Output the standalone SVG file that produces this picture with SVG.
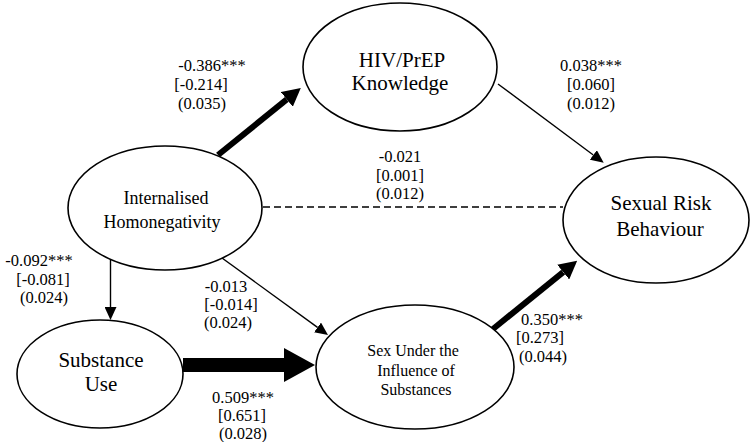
<svg xmlns="http://www.w3.org/2000/svg" width="751" height="442" viewBox="0 0 751 442">
<defs>
<style>
.node{fill:#fff;stroke:#000;stroke-width:1.6}
.lbl{font-family:'Liberation Serif','DejaVu Serif',serif;fill:#000;text-anchor:middle}
.coef{font-size:16.5px}
.big{font-size:21px}
.mid{font-size:18px}
.sm{font-size:16px}
.thin{stroke:#000;stroke-width:1.4;fill:none}
.med{stroke:#000;stroke-width:6;fill:none}
.fat{stroke:#000;stroke-width:14;fill:none}
.dash{stroke:#000;stroke-width:1.4;stroke-dasharray:7 4;fill:none}
</style>
<marker id="hThin" markerUnits="userSpaceOnUse" markerWidth="13" markerHeight="12" refX="0" refY="6" orient="auto" viewBox="0 0 13 12"><path d="M0,0 L13,6 L0,12 z" fill="#000"/></marker>
<marker id="hMed" markerUnits="userSpaceOnUse" markerWidth="18" markerHeight="19" refX="0" refY="9.5" orient="auto" viewBox="0 0 18 19"><path d="M0,0 L18,9.5 L0,19 z" fill="#000"/></marker>
<marker id="hFat" markerUnits="userSpaceOnUse" markerWidth="31" markerHeight="34" refX="0" refY="17" orient="auto" viewBox="0 0 31 34"><path d="M0,0 L31,17 L0,34 z" fill="#000"/></marker>
</defs>
<rect width="751" height="442" fill="#fff"/>
<g id="connectors">
<line class="med" x1="218" y1="155" x2="286.8" y2="99.4" marker-end="url(#hMed)"/>
<line class="thin" x1="498" y1="84" x2="593.3" y2="155" marker-end="url(#hThin)"/>
<line class="dash" x1="263" y1="207" x2="563" y2="207"/>
<line class="thin" x1="110.5" y1="259" x2="110.5" y2="307" marker-end="url(#hThin)"/>
<line class="thin" x1="222" y1="258" x2="317.5" y2="327.4" marker-end="url(#hThin)"/>
<line class="fat" x1="183" y1="365" x2="284" y2="365" marker-end="url(#hFat)"/>
<line class="med" x1="493" y1="329" x2="563.2" y2="272.1" marker-end="url(#hMed)"/>
</g>
<g id="hiv">
<ellipse class="node" cx="400" cy="67" rx="97" ry="64"/>
<text class="lbl big" x="402" y="67">HIV/PrEP</text>
<text class="lbl big" x="400" y="90">Knowledge</text>
</g>
<g id="ih">
<ellipse class="node" cx="165" cy="208" rx="97" ry="62"/>
<text class="lbl mid" x="166" y="204">Internalised</text>
<text class="lbl mid" x="162" y="228">Homonegativity</text>
</g>
<g id="srb">
<ellipse class="node" cx="656" cy="220" rx="93" ry="63"/>
<text class="lbl big" x="661" y="210">Sexual Risk</text>
<text class="lbl big" x="660" y="236">Behaviour</text>
</g>
<g id="su">
<ellipse class="node" cx="100" cy="374" rx="83" ry="54"/>
<text class="lbl big" x="101" y="367">Substance</text>
<text class="lbl big" x="101" y="391">Use</text>
</g>
<g id="sui">
<ellipse class="node" cx="415" cy="367" rx="99" ry="62"/>
<text class="lbl sm" x="413" y="356">Sex Under the</text>
<text class="lbl sm" x="416" y="376">Influence of</text>
<text class="lbl sm" x="416" y="395">Substances</text>
</g>
<g id="labels">
<text class="lbl coef" x="212" y="71">-0.386***</text>
<text class="lbl coef" x="201" y="90">[-0.214]</text>
<text class="lbl coef" x="202" y="109">(0.035)</text>
<text class="lbl coef" x="591" y="71">0.038***</text>
<text class="lbl coef" x="591" y="90">[0.060]</text>
<text class="lbl coef" x="591" y="109">(0.012)</text>
<text class="lbl coef" x="400" y="162">-0.021</text>
<text class="lbl coef" x="400" y="181">[0.001]</text>
<text class="lbl coef" x="400" y="199">(0.012)</text>
<text class="lbl coef" x="39" y="266">-0.092***</text>
<text class="lbl coef" x="43" y="285">[-0.081]</text>
<text class="lbl coef" x="44" y="303">(0.024)</text>
<text class="lbl coef" x="226" y="292">-0.013</text>
<text class="lbl coef" x="231" y="310">[-0.014]</text>
<text class="lbl coef" x="228" y="328">(0.024)</text>
<text class="lbl coef" x="243" y="403">0.509***</text>
<text class="lbl coef" x="242" y="421">[0.651]</text>
<text class="lbl coef" x="243" y="439">(0.028)</text>
<text class="lbl coef" x="552" y="325">0.350***</text>
<text class="lbl coef" x="540" y="343">[0.273]</text>
<text class="lbl coef" x="543" y="362">(0.044)</text>
</g>
</svg>
